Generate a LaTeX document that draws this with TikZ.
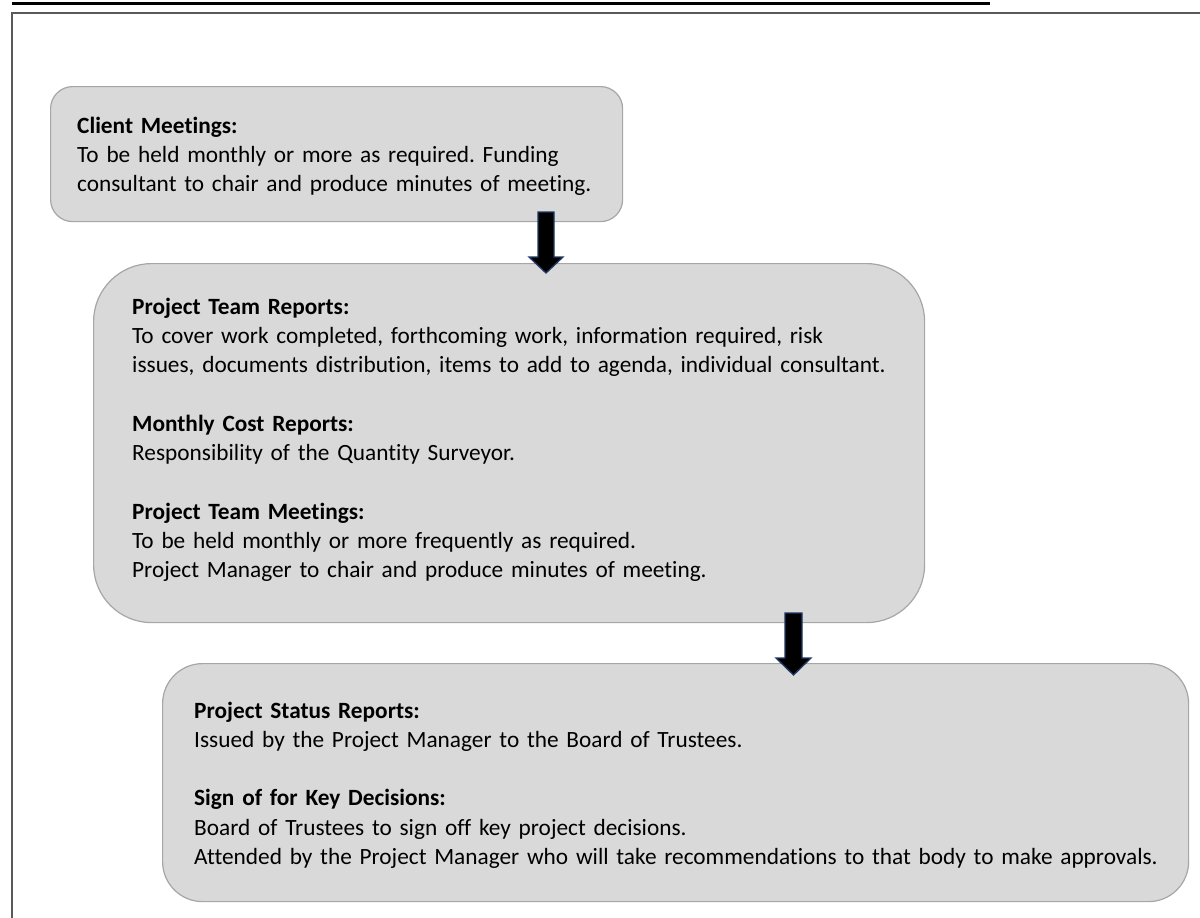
\documentclass[tikz,border=0pt]{standalone}
\usepackage{fontspec}
\setmainfont[Ligatures=NoCommon]{Carlito}
\usetikzlibrary{calc}
\frenchspacing
\definecolor{boxfill}{HTML}{D9D9D9}
\definecolor{boxline}{HTML}{A6A6A6}
\definecolor{arrowline}{HTML}{1F3864}
\definecolor{frameline}{HTML}{595959}
\tikzset{
  box/.style={draw=boxline, fill=boxfill, line width=1.2pt, inner sep=0pt, anchor=north west},
  txt/.style={anchor=base west, inner sep=0pt, text width=#1, align=left,
    font=\fontsize{23.3pt}{29.3pt}\selectfont\frenchspacing},
  blockarrow/.style={fill=black, draw=arrowline, line width=1.3pt, line join=miter},
}
\begin{document}
\begin{tikzpicture}[x=1pt,y=-1pt]
\useasboundingbox (0,0) rectangle (1200,918);
% frame
\draw[line width=2.5pt] (12,3.5) -- (990,3.5);
\draw[frameline, line width=2pt] (1200,12.5) -- (12,12.5) -- (12,918);
% boxes
\node[box, rounded corners=22pt, minimum width=572pt, minimum height=135pt] (b1) at (50,86) {};
\node[box, rounded corners=58pt, minimum width=831pt, minimum height=359pt] (b2) at (93,263) {};
\node[box, rounded corners=40pt, minimum width=1026pt, minimum height=238pt] (b3) at (162,663) {};
% texts
\node[txt=560pt] (t1) at (77,133) {\textbf{Client Meetings:}\\
To be held monthly or more as required. Funding\\
consultant to chair and produce minutes of meeting.};
\node[txt=820pt] (t2) at (132,314) {\textbf{Project Team Reports:}\\
To cover work completed, forthcoming work, information required, risk\\
issues, documents distribution, items to add to agenda, individual consultant.\\[29.3pt]
\textbf{Monthly Cost Reports:}\\
Responsibility of the Quantity Surveyor.\\[29.3pt]
\textbf{Project Team Meetings:}\\
To be held monthly or more frequently as required.\\
Project Manager to chair and produce minutes of meeting.};
\node[txt=1000pt] (t3) at (194,718) {\textbf{Project Status Reports:}\\
Issued by the Project Manager to the Board of Trustees.\\[29.3pt]
\textbf{Sign of for Key Decisions:}\\
Board of Trustees to sign off key project decisions.\\
Attended by the Project Manager who will take recommendations to that body to make approvals.};
% block arrows
\coordinate (a1) at (546,273);
\coordinate (a2) at (793.5,675);
\draw[blockarrow] ($(a1)+(-8,-61)$) -- ($(a1)+(8,-61)$) -- ($(a1)+(8,-16)$) -- ($(a1)+(17,-16)$)
  -- (a1) -- ($(a1)+(-17,-16)$) -- ($(a1)+(-8,-16)$) -- cycle;
\draw[blockarrow] ($(a2)+(-8.5,-62)$) -- ($(a2)+(8.5,-62)$) -- ($(a2)+(8.5,-17)$) -- ($(a2)+(17.5,-17)$)
  -- (a2) -- ($(a2)+(-17.5,-17)$) -- ($(a2)+(-8.5,-17)$) -- cycle;
\end{tikzpicture}
\end{document}
